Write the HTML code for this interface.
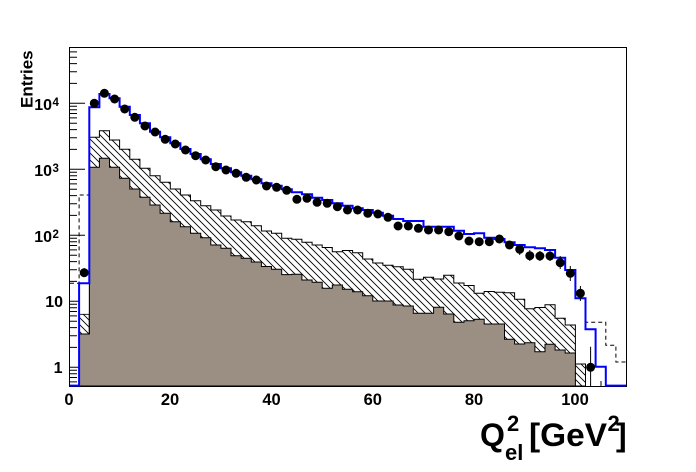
<!DOCTYPE html>
<html><head><meta charset="utf-8"><style>
html,body{margin:0;padding:0;background:#fff;}
svg{display:block;}
text{font-family:"Liberation Sans",Arial,sans-serif;font-weight:bold;fill:#000;}
</style></head><body>
<svg width="696" height="472" viewBox="0 0 696 472" xmlns="http://www.w3.org/2000/svg">
<defs>
<pattern id="h" patternUnits="userSpaceOnUse" width="7" height="7">
<path d="M0,0 L7,7 M-1,6 L1,8 M6,-1 L8,1" stroke="#000" stroke-width="0.9" fill="none"/>
</pattern>
</defs>
<rect x="0" y="0" width="696" height="472" fill="#fff"/>
<g stroke="#000" stroke-width="1">
<path d="M69,367.3H85M69,301.3H85M69,235.3H85M69,169.3H85M69,103.3H85"/>
<path d="M69,381.9H77M69,377.5H77M69,373.7H77M69,370.3H77 M69,347.4H77M69,335.8H77M69,327.6H77M69,321.2H77M69,315.9H77M69,311.5H77M69,307.7H77M69,304.3H77 M69,281.4H77M69,269.8H77M69,261.6H77M69,255.2H77M69,249.9H77M69,245.5H77M69,241.7H77M69,238.3H77 M69,215.4H77M69,203.8H77M69,195.6H77M69,189.2H77M69,183.9H77M69,179.5H77M69,175.7H77M69,172.3H77 M69,149.4H77M69,137.8H77M69,129.6H77M69,123.2H77M69,117.9H77M69,113.5H77M69,109.7H77M69,106.3H77 M69,83.4H77M69,71.8H77M69,63.6H77M69,57.2H77M69,51.9H77"/>
</g>
<path fill="url(#h)" stroke="#000" stroke-width="1" d="M79.1,386 V314.3 H89.3 V137.3 H99.4 V130.7 H109.5 V140 H119.6 V149.3 H129.8 V159.3 H139.9 V168.3 H150 V175.7 H160.1 V182.3 H170.3 V189 H180.4 V195 H190.5 V200.7 H200.7 V205.7 H210.8 V210 H220.9 V216 H231 V220 H241.2 V221.7 H251.3 V225.7 H261.4 V231 H271.5 V233.3 H281.7 V238.3 H291.8 V239.3 H301.9 V242.3 H312.1 V245 H322.2 V247.5 H332.3 V251.7 H342.4 V250.5 H352.6 V252.7 H362.7 V259 H372.8 V263 H382.9 V265.2 H393.1 V266.7 H403.2 V269.3 H413.3 V279.3 H423.5 V277.3 H433.6 V279 H443.7 V275.3 H453.8 V283 H464 V285.5 H474.1 V293.3 H484.2 V291.5 H494.3 V292.3 H504.5 V292.7 H514.6 V299.3 H524.7 V308.7 H534.9 V307.5 H545 V304.7 H555.1 V318.3 H565.2 V325 H575.4 V364 H585.5 V386 Z"/>
<path fill="rgb(155,143,132)" stroke="#000" stroke-width="1" d="M79.1,386 V334 H89.3 V167.3 H99.4 V158.3 H109.5 V167.3 H119.6 V178.3 H129.8 V189 H139.9 V197.3 H150 V205 H160.1 V213.3 H170.3 V221.7 H180.4 V226.7 H190.5 V233.3 H200.7 V237.7 H210.8 V245 H220.9 V248.3 H231 V255.7 H241.2 V258.3 H251.3 V262 H261.4 V266.5 H271.5 V269.2 H281.7 V274.6 H291.8 V274.3 H301.9 V280 H312.1 V282.3 H322.2 V288.3 H332.3 V285 H342.4 V289.2 H352.6 V291.7 H362.7 V295.7 H372.8 V301 H382.9 V301 H393.1 V305 H403.2 V306 H413.3 V313.3 H423.5 V313.3 H433.6 V307.3 H443.7 V314 H453.8 V322.3 H464 V320.7 H474.1 V319.3 H484.2 V324 H494.3 V324 H504.5 V339.3 H514.6 V344 H524.7 V342.7 H534.9 V351.7 H545 V344.3 H555.1 V350 H565.2 V353 H575.4 V386 Z"/>
<rect x="79.1" y="283.3" width="10.2" height="50.7" fill="none" stroke="#000" stroke-width="1"/>
<rect x="79.6" y="283.8" width="9.2" height="30" fill="#fff"/>
<path d="M601,381 V386" stroke="#000" stroke-width="1"/>
<g fill="none" stroke="#000" stroke-width="1" stroke-dasharray="4 3">
<path d="M70,283.3 H79.1 V195 H89.3"/>
<path d="M585.5,300 V322.3 H605.8 V345.3 H615.9 V362 H626"/>
</g>
<rect x="69.5" y="47.5" width="557" height="339" fill="none" stroke="#000" stroke-width="1"/>
<path fill="none" stroke="#0000ff" stroke-width="2" d="M70,385.6 H79.1 V283.3 H89.3 V107.3 H99.4 V94 H109.5 V98.3 H119.6 V106.7 H129.8 V115 H139.9 V123.3 H150 V131.7 H160.1 V137.3 H170.3 V143.3 H180.4 V149 H190.5 V154 H200.7 V159.3 H210.8 V164 H220.9 V168.3 H231 V172.3 H241.2 V175.7 H251.3 V179.3 H261.4 V183.3 H271.5 V185.7 H281.7 V189.3 H291.8 V192.3 H301.9 V194.3 H312.1 V197.7 H322.2 V200 H332.3 V203.3 H342.4 V205.7 H352.6 V208.3 H362.7 V210 H372.8 V212.7 H382.9 V215.7 H393.1 V219 H403.2 V221 H413.3 V221 H423.5 V226.7 H433.6 V226.7 H443.7 V226.7 H453.8 V230.7 H464 V234 H474.1 V233.3 H484.2 V237.7 H494.3 V239 H504.5 V242.3 H514.6 V245 H524.7 V247.3 H534.9 V248.3 H545 V250 H555.1 V257.7 H565.2 V270 H575.4 V298.3 H585.5 V329.3 H595.6 V366.7 H605.8 V385.6 H626"/>
<g stroke="#000" stroke-width="1">
<path d="M84.2,268V277M519.7,244V255M529.8,250V261M539.9,251V261M550,251V261M560.2,256V269M570.3,266V281M580.4,286V301M590.6,346.7V386"/>
</g>
<g fill="#000">
<circle cx="84.2" cy="272.7" r="4.5"/>
<circle cx="94.3" cy="103.3" r="4.5"/>
<circle cx="104.4" cy="93.3" r="4.5"/>
<circle cx="114.6" cy="99" r="4.5"/>
<circle cx="124.7" cy="109" r="4.5"/>
<circle cx="134.8" cy="117.3" r="4.5"/>
<circle cx="145" cy="126" r="4.5"/>
<circle cx="155.1" cy="132" r="4.5"/>
<circle cx="165.2" cy="139.3" r="4.5"/>
<circle cx="175.3" cy="144" r="4.5"/>
<circle cx="185.5" cy="150" r="4.5"/>
<circle cx="195.6" cy="155.7" r="4.5"/>
<circle cx="205.7" cy="160" r="4.5"/>
<circle cx="215.8" cy="166.7" r="4.5"/>
<circle cx="226" cy="170" r="4.5"/>
<circle cx="236.1" cy="173.3" r="4.5"/>
<circle cx="246.2" cy="177.3" r="4.5"/>
<circle cx="256.4" cy="180" r="4.5"/>
<circle cx="266.5" cy="186" r="4.5"/>
<circle cx="276.6" cy="187.3" r="4.5"/>
<circle cx="286.7" cy="190.3" r="4.5"/>
<circle cx="296.9" cy="199.3" r="4.5"/>
<circle cx="307" cy="198.3" r="4.5"/>
<circle cx="317.1" cy="202.3" r="4.5"/>
<circle cx="327.2" cy="203.3" r="4.5"/>
<circle cx="337.4" cy="206.7" r="4.5"/>
<circle cx="347.5" cy="210" r="4.5"/>
<circle cx="357.6" cy="210" r="4.5"/>
<circle cx="367.8" cy="213.3" r="4.5"/>
<circle cx="377.9" cy="214" r="4.5"/>
<circle cx="388" cy="217.3" r="4.5"/>
<circle cx="398.1" cy="226" r="4.5"/>
<circle cx="408.3" cy="226" r="4.5"/>
<circle cx="418.4" cy="228.3" r="4.5"/>
<circle cx="428.5" cy="230" r="4.5"/>
<circle cx="438.6" cy="230" r="4.5"/>
<circle cx="448.8" cy="231.7" r="4.5"/>
<circle cx="458.9" cy="236" r="4.5"/>
<circle cx="469" cy="241" r="4.5"/>
<circle cx="479.2" cy="241.7" r="4.5"/>
<circle cx="489.3" cy="241.7" r="4.5"/>
<circle cx="499.4" cy="239" r="4.5"/>
<circle cx="509.5" cy="245" r="4.5"/>
<circle cx="519.7" cy="249.3" r="4.5"/>
<circle cx="529.8" cy="255.7" r="4.5"/>
<circle cx="539.9" cy="256" r="4.5"/>
<circle cx="550" cy="256" r="4.5"/>
<circle cx="560.2" cy="262.7" r="4.5"/>
<circle cx="570.3" cy="273.3" r="4.5"/>
<circle cx="580.4" cy="293.3" r="4.5"/>
<circle cx="590.6" cy="367.3" r="4.5"/>
</g>
<g font-size="16">
<text x="52" y="110" text-anchor="end">10</text><text x="52.5" y="106" font-size="11.5">4</text>
<text x="52" y="176" text-anchor="end">10</text><text x="52.5" y="172" font-size="11.5">3</text>
<text x="52" y="242" text-anchor="end">10</text><text x="52.5" y="238" font-size="11.5">2</text>
<text x="63" y="307" text-anchor="end">10</text>
<text x="62.5" y="373" text-anchor="end">1</text>
</g>
<g font-size="16.5" text-anchor="middle">
<text x="69" y="405">0</text>
<text x="170" y="405">20</text>
<text x="271.5" y="405">40</text>
<text x="372.8" y="405">60</text>
<text x="474" y="405">80</text>
<text x="575" y="405">100</text>
</g>
<text transform="translate(32.5,108) rotate(-90)" font-size="17">Entries</text>
<text x="480" y="446" font-size="32">Q</text>
<text x="507" y="431" font-size="22">2</text>
<text x="505" y="460" font-size="22">el</text>
<text x="529" y="446" font-size="32" textLength="78" lengthAdjust="spacingAndGlyphs">[GeV</text>
<text x="607.5" y="431" font-size="22">2</text>
<text x="616" y="446" font-size="32">]</text>
</svg>
</body></html>
